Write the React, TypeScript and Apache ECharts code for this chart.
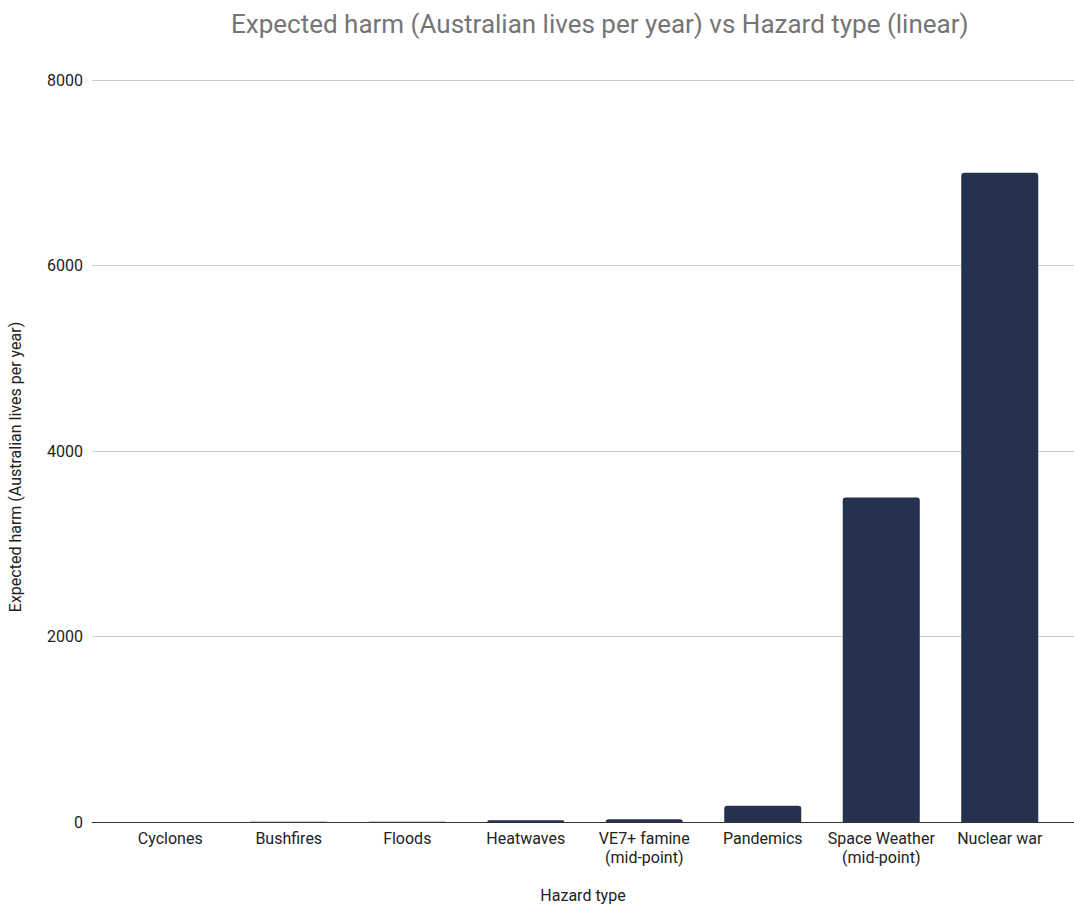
import React, { useEffect, useRef } from "react";
import * as echarts from "echarts";

const hazards = [
  "Cyclones",
  "Bushfires",
  "Floods",
  "Heatwaves",
  "VE7+ famine\n(mid-point)",
  "Pandemics",
  "Space Weather\n(mid-point)",
  "Nuclear war",
];
const expectedHarm = [1, 3, 4, 18, 30, 175, 3500, 7000];
const yTicks = { min: 0, max: 8000, interval: 2000 };

const FONT = "Roboto, 'Noto Sans', sans-serif";
const BAR = "#24324f";
const INK = "#222222";

export default function App() {
  const ref = useRef<HTMLDivElement>(null);

  useEffect(() => {
    if (!ref.current) return;
    const chart = echarts.init(ref.current, undefined, { renderer: "svg" });
    chart.setOption({
      animation: false,
      backgroundColor: "#ffffff",
      textStyle: { fontFamily: FONT },
      title: {
        text: "Expected harm (Australian lives per year) vs Hazard type (linear)",
        left: 226,
        top: 6,
        textStyle: { fontFamily: FONT, fontSize: 26, fontWeight: "normal", color: "#757575" },
      },
      // grid 0 carries the full-width gridlines and baseline; grid 1 holds the bars
      grid: [
        { left: 92, right: 0, top: 80, bottom: 83, outerBoundsMode: "none", containLabel: false },
        { left: 111, right: 15, top: 80, bottom: 83, outerBoundsMode: "none", containLabel: false },
      ],
      xAxis: [
        {
          gridIndex: 0,
          type: "value",
          min: 0,
          max: 1,
          axisLine: { show: true, lineStyle: { color: "#333333", width: 1 } },
          axisTick: { show: false },
          axisLabel: { show: false },
          splitLine: { show: false },
          name: "Hazard type",
          nameLocation: "middle",
          nameGap: 65,
          nameTextStyle: { fontFamily: FONT, fontSize: 16, color: INK },
        },
        {
          gridIndex: 1,
          type: "category",
          data: hazards,
          axisLine: { show: false },
          axisTick: { show: false },
          axisLabel: {
            fontFamily: FONT,
            fontSize: 16,
            color: INK,
            margin: 7,
            lineHeight: 19,
            interval: 0,
          },
        },
      ],
      yAxis: [
        {
          gridIndex: 0,
          type: "value",
          ...yTicks,
          axisLine: { show: false },
          axisTick: { show: false },
          axisLabel: {
            fontFamily: FONT,
            fontSize: 16,
            color: INK,
            margin: 9,
            formatter: (v: number) => String(v),
          },
          splitLine: { lineStyle: { color: "#cccccc", width: 1 } },
          name: "Expected harm (Australian lives per year)",
          nameLocation: "middle",
          nameGap: 69,
          nameTextStyle: { fontFamily: FONT, fontSize: 16, color: INK, padding: [0, 32, 0, 0] },
        },
        {
          gridIndex: 1,
          type: "value",
          ...yTicks,
          show: false,
          splitLine: { show: false },
        },
      ],
      series: [
        {
          type: "bar",
          xAxisIndex: 1,
          yAxisIndex: 1,
          data: expectedHarm,
          barCategoryGap: "35%",
          itemStyle: { color: BAR, borderRadius: [3, 3, 0, 0] },
          z: 1,
        },
      ],
    });
    return () => chart.dispose();
  }, []);

  return (
    <div
      ref={ref}
      style={{ position: "fixed", left: 0, top: 0, width: 1074, height: 905 }}
    />
  );
}
